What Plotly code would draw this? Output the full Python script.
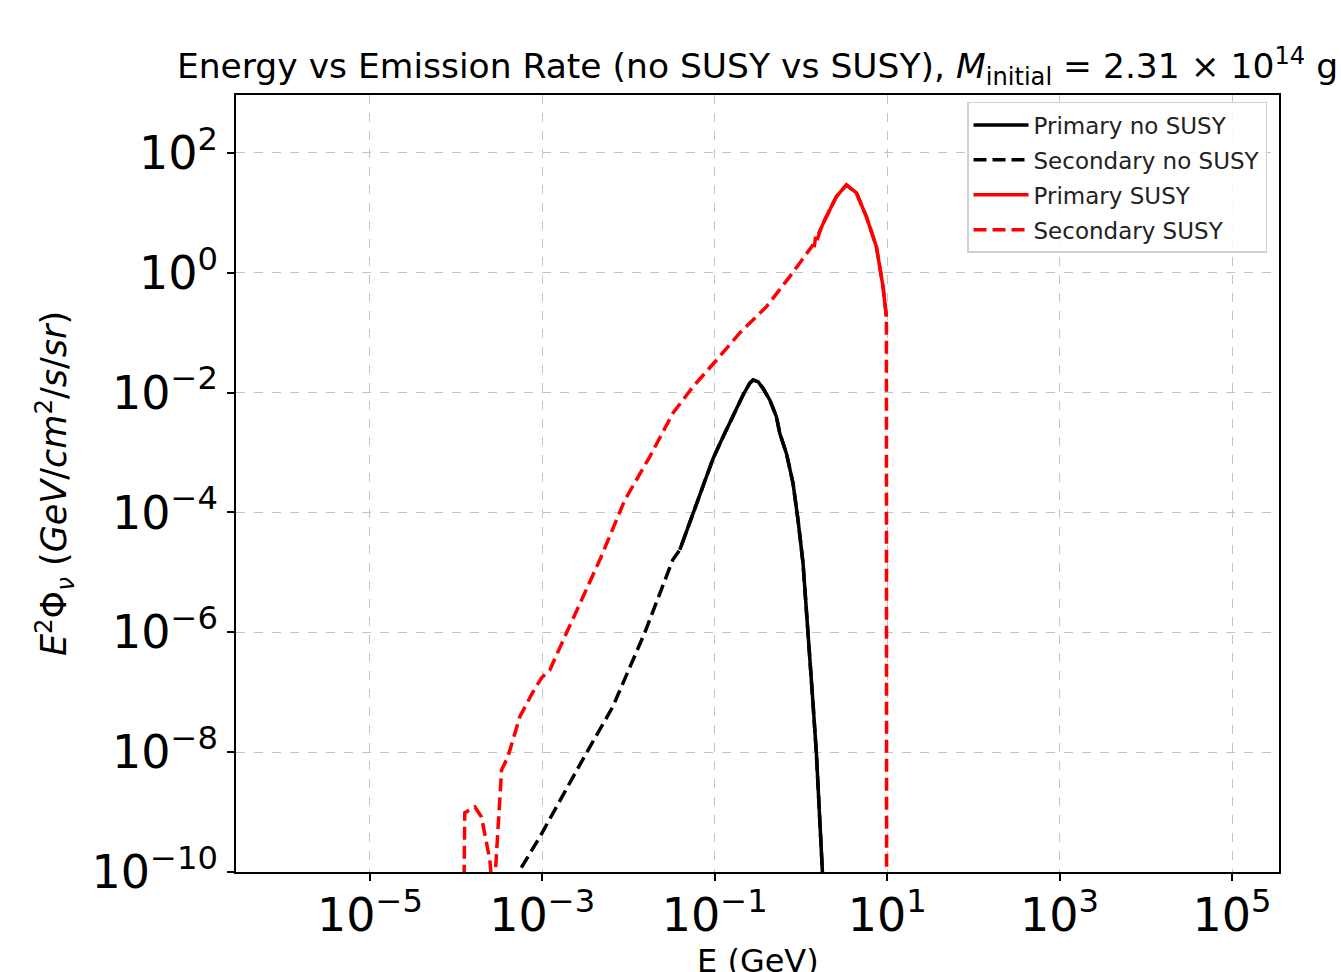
import plotly.graph_objects as go

# ---- data ----
E_sec_susy = [1.20e-4, 1.26e-4, 1.65e-4, 1.97e-4, 2.46e-4, 2.72e-4, 3.37e-4, 3.98e-4,
              5.48e-4, 7.76e-4, 9.80e-4, 1.22e-3, 1.91e-3, 2.95e-3, 4.65e-3, 9.06e-3,
              1.76e-2, 3.28e-2, 5.56e-2, 0.105, 0.195, 0.398, 0.741, 1.38, 1.41, 1.48,
              1.51, 1.73, 1.97, 2.58, 3.37, 4.40, 5.74, 7.50, 8.95, 9.80, 9.86]
F_sec_susy = [1e-12, 9.7e-10, 1.22e-9, 8.3e-10, 1.6e-10, 3.2e-11, 5.05e-9, 8.3e-9,
              3.9e-8, 1.0e-7, 1.74e-7, 2.34e-7, 9.8e-7, 3.9e-6, 1.62e-5, 1.62e-4,
              8.5e-4, 4.57e-3, 1.24e-2, 3.5e-2, 9.9e-2, 0.272, 0.863, 2.92, 2.4, 4.0,
              3.2, 5.9, 8.65, 18.7, 29.2, 21.5, 8.65, 2.73, 0.587, 0.185, 1e-12]

E_pri_susy = [1.60, 1.73, 1.97, 2.58, 3.37, 4.40, 5.74, 7.50, 8.95, 9.80]
F_pri_susy = [4.5, 5.9, 8.65, 18.7, 29.2, 21.5, 8.65, 2.73, 0.587, 0.185]

E_pri_nosusy = [3.93e-2, 9.55e-2, 0.125, 0.163, 0.213, 0.255, 0.278, 0.318, 0.363,
                0.435, 0.519, 0.568, 0.678, 0.809, 0.925, 1.057, 1.156, 1.262, 1.380,
                1.510, 1.648, 1.774, 1.80]
F_pri_nosusy = [2.37e-5, 7.9e-4, 1.84e-3, 4.25e-3, 9.14e-3, 1.44e-2, 1.63e-2, 1.52e-2,
                1.18e-2, 7.55e-3, 3.97e-3, 2.1e-3, 9.7e-4, 3.08e-4, 7.5e-5, 1.42e-5,
                2.68e-6, 4.47e-7, 6.5e-8, 9.6e-9, 1.08e-9, 1.01e-10, 1e-11]

E_sec_nosusy = [4.40e-4, 9.35e-4, 3.26e-3, 6.56e-3, 1.54e-2, 3.26e-2] + E_pri_nosusy
F_sec_nosusy = [6.3e-11, 3.85e-10, 9.8e-9, 5.7e-8, 9.8e-7, 1.62e-5] + F_pri_nosusy

x_tickvals = [1e-5, 1e-3, 1e-1, 1e1, 1e3, 1e5]
x_ticktext = ["10<sup>−5</sup>", "10<sup>−3</sup>", "10<sup>−1</sup>",
              "10<sup>1</sup>", "10<sup>3</sup>", "10<sup>5</sup>"]
y_tickvals = [1e-10, 1e-8, 1e-6, 1e-4, 1e-2, 1e0, 1e2]
y_ticktext = ["10<sup>−10</sup>", "10<sup>−8</sup>", "10<sup>−6</sup>", "10<sup>−4</sup>",
              "10<sup>−2</sup>", "10<sup>0</sup>", "10<sup>2</sup>"]

FONT = "DejaVu Sans"
DASH = "13px,6px"
LW = 3.5

fig = go.Figure()
fig.add_trace(go.Scatter(x=E_pri_nosusy, y=F_pri_nosusy, mode="lines", legendgroup="a",
                         name="Primary no SUSY", line=dict(color="black", width=LW)))
fig.add_trace(go.Scatter(x=E_sec_nosusy, y=F_sec_nosusy, mode="lines", legendgroup="b",
                         name="Secondary no SUSY", line=dict(color="black", width=LW, dash=DASH)))
fig.add_trace(go.Scatter(x=E_pri_susy, y=F_pri_susy, mode="lines", legendgroup="c",
                         name="Primary SUSY", line=dict(color="red", width=LW)))
fig.add_trace(go.Scatter(x=E_sec_susy, y=F_sec_susy, mode="lines", legendgroup="d",
                         name="Secondary SUSY", line=dict(color="red", width=LW, dash=DASH)))

axis_common = dict(
    showline=True, linecolor="black", linewidth=1.5, mirror=True,
    ticks="outside", ticklen=7, tickwidth=1.5, tickcolor="black",
    showgrid=True, gridcolor="#c4c4c4", griddash="dash", gridwidth=1,
    zeroline=False, tickfont=dict(family=FONT, size=46, color="black"),
    automargin=False,
)

fig.update_layout(
    width=1341, height=972,
    margin=dict(l=236, r=62, t=95, b=100),
    plot_bgcolor="white", paper_bgcolor="white",
    font=dict(family=FONT, color="black"),
    title=dict(
        text="Energy vs Emission Rate (no SUSY vs SUSY), <i>M</i><sub>initial</sub> = 2.31 × 10<sup>14</sup> g",
        x=0.5, xref="paper", xanchor="center", y=0.932, yanchor="middle",
        font=dict(family=FONT, size=34.5, color="black"),
    ),
    xaxis=dict(type="log", range=[-6.553, 5.545], tickvals=x_tickvals, ticktext=x_ticktext,
               ticklabelstandoff=-5, **axis_common),
    yaxis=dict(type="log", range=[-10, 2.967], tickvals=y_tickvals, ticktext=y_ticktext,
               title=dict(text="<i>E</i><sup>2</sup>Φ<sub><i>ν</i></sub> (<i>GeV</i>/<i>cm</i><sup>2</sup>/<i>s</i>/<i>sr</i>)",
                          font=dict(family=FONT, size=35), standoff=14),
               **axis_common),
    legend=dict(x=0.9885, y=0.991, xanchor="right", yanchor="top",
                bgcolor="rgba(255,255,255,0.85)", bordercolor="#d0d0d0", borderwidth=1.5,
                itemwidth=55, tracegroupgap=2,
                font=dict(family=FONT, size=23, color="#222222")),
    showlegend=True,
    annotations=[dict(text="E (GeV)", xref="paper", yref="paper", x=0.5, y=-0.088,
                      xanchor="center", yanchor="top", showarrow=False,
                      font=dict(family=FONT, size=32, color="black"))],
)

fig.write_html("out.html")
